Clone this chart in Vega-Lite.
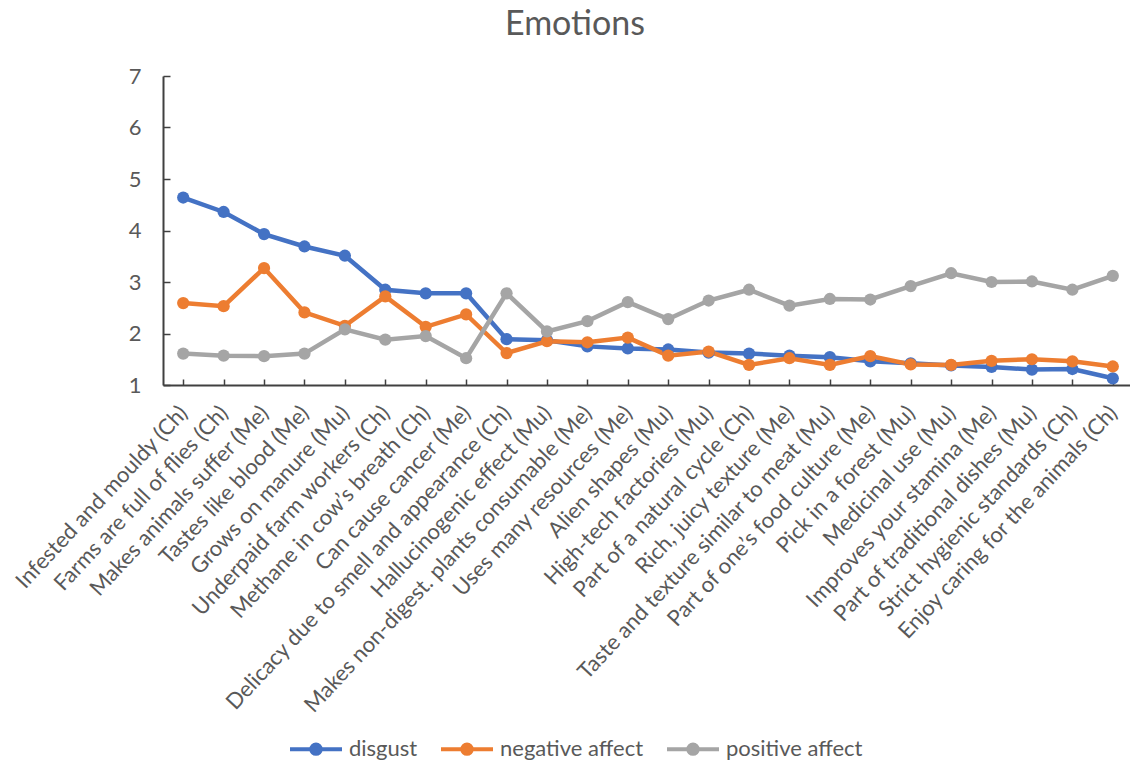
{
  "$schema": "https://vega.github.io/schema/vega-lite/v6.json",
  "width": 970,
  "height": 309,
  "autosize": "none",
  "padding": {"left": 163, "top": 76, "right": 0, "bottom": 377},
  "background": "white",
  "title": {
    "text": "Emotions",
    "font": "Lato",
    "fontSize": 34,
    "fontWeight": "normal",
    "color": "#595959",
    "anchor": "middle",
    "dx": -73,
    "offset": 23
  },
  "datasets": {
    "emotions": [
      {"item": "Infested and mouldy (Ch)", "emotion": "disgust", "value": 4.64},
      {"item": "Farms are full of flies (Ch)", "emotion": "disgust", "value": 4.36},
      {"item": "Makes animals suffer (Me)", "emotion": "disgust", "value": 3.93},
      {"item": "Tastes like blood (Me)", "emotion": "disgust", "value": 3.69},
      {"item": "Grows on manure (Mu)", "emotion": "disgust", "value": 3.51},
      {"item": "Underpaid farm workers (Ch)", "emotion": "disgust", "value": 2.85},
      {"item": "Methane in cow’s breath (Ch)", "emotion": "disgust", "value": 2.78},
      {"item": "Can cause cancer (Me)", "emotion": "disgust", "value": 2.78},
      {"item": "Delicacy due to smell and appearance (Ch)", "emotion": "disgust", "value": 1.89},
      {"item": "Hallucinogenic effect (Mu)", "emotion": "disgust", "value": 1.87},
      {"item": "Makes non-digest. plants consumable (Me)", "emotion": "disgust", "value": 1.75},
      {"item": "Uses many resources (Me)", "emotion": "disgust", "value": 1.71},
      {"item": "Alien shapes (Mu)", "emotion": "disgust", "value": 1.69},
      {"item": "High-tech factories (Mu)", "emotion": "disgust", "value": 1.63},
      {"item": "Part of a natural cycle (Ch)", "emotion": "disgust", "value": 1.61},
      {"item": "Rich, juicy texture (Me)", "emotion": "disgust", "value": 1.57},
      {"item": "Taste and texture similar to meat (Mu)", "emotion": "disgust", "value": 1.54},
      {"item": "Part of one’s food culture (Me)", "emotion": "disgust", "value": 1.46},
      {"item": "Pick in a forest (Mu)", "emotion": "disgust", "value": 1.42},
      {"item": "Medicinal use (Mu)", "emotion": "disgust", "value": 1.38},
      {"item": "Improves your stamina (Me)", "emotion": "disgust", "value": 1.35},
      {"item": "Part of traditional dishes (Mu)", "emotion": "disgust", "value": 1.30},
      {"item": "Strict hygienic standards (Ch)", "emotion": "disgust", "value": 1.31},
      {"item": "Enjoy caring for the animals (Ch)", "emotion": "disgust", "value": 1.13},

      {"item": "Infested and mouldy (Ch)", "emotion": "negative affect", "value": 2.59},
      {"item": "Farms are full of flies (Ch)", "emotion": "negative affect", "value": 2.53},
      {"item": "Makes animals suffer (Me)", "emotion": "negative affect", "value": 3.27},
      {"item": "Tastes like blood (Me)", "emotion": "negative affect", "value": 2.41},
      {"item": "Grows on manure (Mu)", "emotion": "negative affect", "value": 2.15},
      {"item": "Underpaid farm workers (Ch)", "emotion": "negative affect", "value": 2.72},
      {"item": "Methane in cow’s breath (Ch)", "emotion": "negative affect", "value": 2.13},
      {"item": "Can cause cancer (Me)", "emotion": "negative affect", "value": 2.37},
      {"item": "Delicacy due to smell and appearance (Ch)", "emotion": "negative affect", "value": 1.62},
      {"item": "Hallucinogenic effect (Mu)", "emotion": "negative affect", "value": 1.85},
      {"item": "Makes non-digest. plants consumable (Me)", "emotion": "negative affect", "value": 1.83},
      {"item": "Uses many resources (Me)", "emotion": "negative affect", "value": 1.92},
      {"item": "Alien shapes (Mu)", "emotion": "negative affect", "value": 1.57},
      {"item": "High-tech factories (Mu)", "emotion": "negative affect", "value": 1.65},
      {"item": "Part of a natural cycle (Ch)", "emotion": "negative affect", "value": 1.39},
      {"item": "Rich, juicy texture (Me)", "emotion": "negative affect", "value": 1.52},
      {"item": "Taste and texture similar to meat (Mu)", "emotion": "negative affect", "value": 1.39},
      {"item": "Part of one’s food culture (Me)", "emotion": "negative affect", "value": 1.56},
      {"item": "Pick in a forest (Mu)", "emotion": "negative affect", "value": 1.40},
      {"item": "Medicinal use (Mu)", "emotion": "negative affect", "value": 1.39},
      {"item": "Improves your stamina (Me)", "emotion": "negative affect", "value": 1.47},
      {"item": "Part of traditional dishes (Mu)", "emotion": "negative affect", "value": 1.50},
      {"item": "Strict hygienic standards (Ch)", "emotion": "negative affect", "value": 1.46},
      {"item": "Enjoy caring for the animals (Ch)", "emotion": "negative affect", "value": 1.36},

      {"item": "Infested and mouldy (Ch)", "emotion": "positive affect", "value": 1.61},
      {"item": "Farms are full of flies (Ch)", "emotion": "positive affect", "value": 1.57},
      {"item": "Makes animals suffer (Me)", "emotion": "positive affect", "value": 1.56},
      {"item": "Tastes like blood (Me)", "emotion": "positive affect", "value": 1.61},
      {"item": "Grows on manure (Mu)", "emotion": "positive affect", "value": 2.08},
      {"item": "Underpaid farm workers (Ch)", "emotion": "positive affect", "value": 1.88},
      {"item": "Methane in cow’s breath (Ch)", "emotion": "positive affect", "value": 1.95},
      {"item": "Can cause cancer (Me)", "emotion": "positive affect", "value": 1.52},
      {"item": "Delicacy due to smell and appearance (Ch)", "emotion": "positive affect", "value": 2.78},
      {"item": "Hallucinogenic effect (Mu)", "emotion": "positive affect", "value": 2.04},
      {"item": "Makes non-digest. plants consumable (Me)", "emotion": "positive affect", "value": 2.24},
      {"item": "Uses many resources (Me)", "emotion": "positive affect", "value": 2.61},
      {"item": "Alien shapes (Mu)", "emotion": "positive affect", "value": 2.28},
      {"item": "High-tech factories (Mu)", "emotion": "positive affect", "value": 2.64},
      {"item": "Part of a natural cycle (Ch)", "emotion": "positive affect", "value": 2.85},
      {"item": "Rich, juicy texture (Me)", "emotion": "positive affect", "value": 2.54},
      {"item": "Taste and texture similar to meat (Mu)", "emotion": "positive affect", "value": 2.67},
      {"item": "Part of one’s food culture (Me)", "emotion": "positive affect", "value": 2.66},
      {"item": "Pick in a forest (Mu)", "emotion": "positive affect", "value": 2.92},
      {"item": "Medicinal use (Mu)", "emotion": "positive affect", "value": 3.17},
      {"item": "Improves your stamina (Me)", "emotion": "positive affect", "value": 3.00},
      {"item": "Part of traditional dishes (Mu)", "emotion": "positive affect", "value": 3.01},
      {"item": "Strict hygienic standards (Ch)", "emotion": "positive affect", "value": 2.85},
      {"item": "Enjoy caring for the animals (Ch)", "emotion": "positive affect", "value": 3.12}
    ]
  },
  "data": {"name": "emotions"},
  "encoding": {
    "x": {
      "field": "item",
      "type": "nominal",
      "sort": null,
      "scale": {"type": "point", "padding": 0.5},
      "axis": {
        "title": null,
        "labelAngle": -47,
        "labelAlign": "right",
        "labelBaseline": "middle",
        "labelFont": "Lato",
        "labelFontSize": 22,
        "labelColor": "#595959",
        "labelPadding": 30,
        "labelLimit": 600,
        "labelOverlap": false,
        "domainColor": "#404040",
        "domainWidth": 2,
        "tickColor": "#404040",
        "tickWidth": 1.5,
        "tickSize": -6,
        "grid": false
      }
    },
    "y": {
      "field": "value",
      "type": "quantitative",
      "scale": {"domain": [1, 7], "nice": false, "zero": false},
      "axis": {
        "title": null,
        "values": [1, 2, 3, 4, 5, 6, 7],
        "labelFont": "Lato",
        "labelFontSize": 22,
        "labelColor": "#595959",
        "labelPadding": 29,
        "domainColor": "#404040",
        "domainWidth": 2,
        "tickColor": "#404040",
        "tickWidth": 1.5,
        "tickSize": -7,
        "grid": false
      }
    },
    "color": {
      "field": "emotion",
      "type": "nominal",
      "scale": {
        "domain": ["disgust", "negative affect", "positive affect"],
        "range": ["#4472C4", "#ED7D31", "#A5A5A5"]
      },
      "legend": {
        "title": null,
        "orient": "none",
        "direction": "horizontal",
        "legendX": 125,
        "legendY": 645,
        "padding": 0,
        "symbolType": "M-1,0L1,0M-0.18,0A0.18,0.18,0,1,0,0.18,0A0.18,0.18,0,1,0,-0.18,0Z",
        "symbolSize": 2704,
        "symbolStrokeWidth": 4,
        "labelFont": "Lato",
        "labelFontSize": 22,
        "labelColor": "#595959",
        "labelOffset": 5,
        "columnPadding": 15,
        "encode": {
          "symbols": {
            "update": {
              "stroke": {"scale": "color", "field": "value"},
              "fill": {"scale": "color", "field": "value"},
              "strokeWidth": {"value": 4},
              "opacity": {"value": 1}
            }
          }
        }
      }
    }
  },
  "layer": [
    {
      "mark": {"type": "line", "strokeWidth": 4.5}
    },
    {
      "mark": {"type": "point", "filled": true, "size": 150, "opacity": 1}
    }
  ],
  "config": {
    "view": {"stroke": null}
  }
}
